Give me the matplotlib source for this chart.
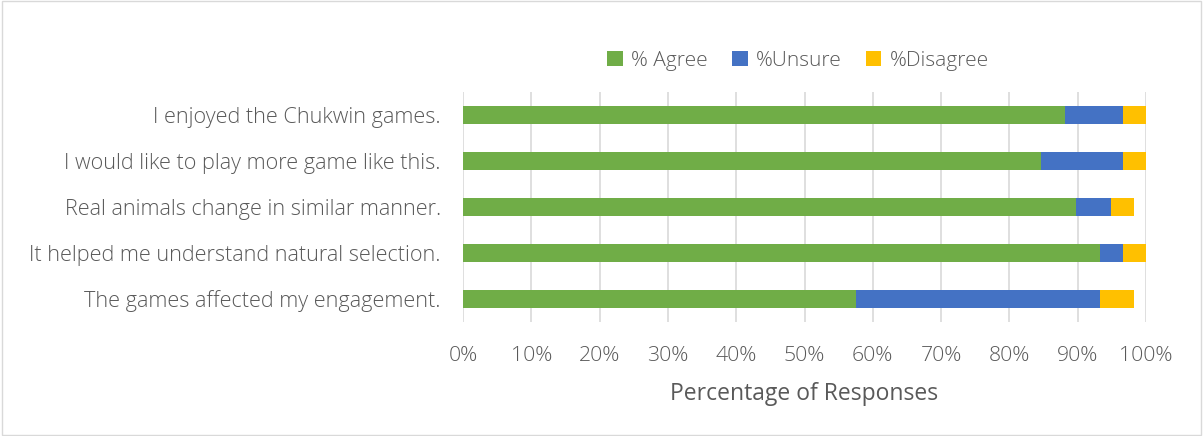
import matplotlib.pyplot as plt
from matplotlib.patches import Rectangle
import numpy as np

plt.rcParams['font.family'] = ['Open Sans', 'DejaVu Sans']
plt.rcParams['font.weight'] = 'light'

statements = [
    'I enjoyed the Chukwin games.',
    'I would like to play more game like this.',
    'Real animals change in similar manner.',
    'It helped me understand natural selection.',
    'The games affected my engagement.',
]
agree = [88.1, 84.7, 89.8, 93.2, 57.6]
unsure = [8.5, 11.9, 5.1, 3.4, 35.6]
disagree = [3.4, 3.4, 3.4, 3.4, 5.1]

green = '#70AD47'
blue = '#4472C4'
yellow = '#FFC000'
text_col = '#595959'

fig = plt.figure(figsize=(12.03, 4.36), dpi=100)
ax = fig.add_axes([0.3849, 0.2615, 0.5677, 0.5275])

y = np.arange(len(statements))[::-1]
a = np.array(agree)
u = np.array(unsure)
d = np.array(disagree)

ax.barh(y, a, height=0.4, color=green, label='% Agree', zorder=3)
ax.barh(y, u, left=a, height=0.4, color=blue, label='%Unsure', zorder=3)
ax.barh(y, d, left=a + u, height=0.4, color=yellow, label='%Disagree', zorder=3)

ax.set_xlim(0, 100)
ax.set_ylim(-0.5, len(statements) - 0.5)
ax.set_xticks(np.arange(0, 101, 10))
ax.set_xticklabels([f'{v}%' for v in range(0, 101, 10)])
ax.set_yticks(y)
ax.set_yticklabels(statements)
ax.xaxis.grid(True, color='#D9D9D9', linewidth=1.2, zorder=0)
for s in ax.spines.values():
    s.set_visible(False)
ax.tick_params(axis='y', length=0, pad=16, labelsize=15.6, labelcolor=text_col)
ax.tick_params(axis='x', length=0, pad=17, labelsize=15.3, labelcolor=text_col)
ax.set_xlabel('Percentage of Responses', fontsize=16.5, color=text_col, labelpad=12)

fig.legend(loc='center', bbox_to_anchor=(798 / 1203, 1 - 61 / 436), ncol=3,
           frameon=False, fontsize=15, labelcolor=text_col, handlelength=0.75,
           handleheight=0.75, columnspacing=1.15, handletextpad=0.4)

fig.patches.append(Rectangle((0.002, 0.003), 0.996, 0.994, transform=fig.transFigure,
                             fill=False, edgecolor='#D9D9D9', linewidth=1))

fig.savefig('out.png', dpi=100)
